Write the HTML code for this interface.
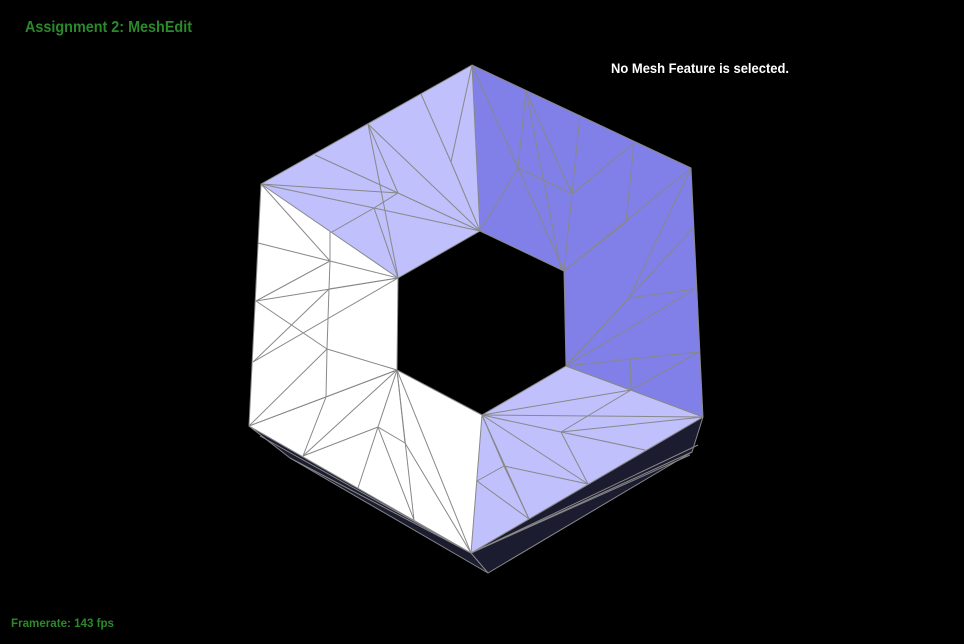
<!DOCTYPE html>
<html><head><meta charset="utf-8"><style>
html,body{margin:0;padding:0;background:#000;}
svg{display:block}
</style></head><body>
<svg width="964" height="644" viewBox="0 0 964 644">
<rect width="964" height="644" fill="#000"/>
<g stroke-linejoin="round">
<polygon fill="#1c1c30" stroke="#888" stroke-width="1" points="249,426 290,458 488,573 692,452 703,417 471,553"/>
<polygon fill="#c0c0fc" points="472,65 261,184 398,278 480,231"/>
<polygon fill="#8080e8" points="472,65 691,168 703,417 566,366 564,271 480,231"/>
<polygon fill="#c0c0fc" points="482,415 566,366 703,417 471,553"/>
<polygon fill="#ffffff" points="261,184 398,278 397,370 482,415 471,553 249,426"/>
<g stroke="#888" stroke-width="1" fill="none">
<polygon points="472,65 691,168 703,417 471,553 249,426 261,184"/>
<polygon points="480,231 564,271 566,366 482,415 397,370 398,278"/>
<polyline points="472,65 480,231"/><polyline points="566,366 703,417"/><polyline points="482,415 471,553"/><polyline points="261,184 398,278"/>
<polyline points="421,94 451,162 472,65"/><polyline points="451,162 480,231"/>
<polyline points="368,124 398,193"/><polyline points="368,124 480,231"/><polyline points="368,124 398,277"/>
<polyline points="315,155 398,193"/><polyline points="398,193 480,231"/>
<polyline points="261,184 398,193"/><polyline points="261,184 374,208 480,231"/><polyline points="374,208 398,193"/><polyline points="374,208 398,278"/><polyline points="374,208 332,232"/>
<polyline points="472,65 518,168"/><polyline points="526,91 518,168"/><polyline points="526,91 572,194"/><polyline points="526,91 561,270"/>
<polyline points="518,168 480,231"/><polyline points="518,168 564,271"/><polyline points="518,168 572,194"/>
<polyline points="580,115 572,194 634,143"/><polyline points="572,194 564,271"/><polyline points="634,143 626,222 564,271"/>
<polyline points="691,168 564,271"/><polyline points="691,168 629,298"/><polyline points="693,228 566,366"/><polyline points="629,298 695,289"/><polyline points="629,298 566,366"/><polyline points="695,289 566,366"/>
<polyline points="566,366 630,359 699,352"/><polyline points="630,359 631,390 699,352"/><polyline points="566,366 631,390"/>
<polyline points="482,415 631,390"/><polyline points="482,415 703,417"/><polyline points="482,415 561,432"/><polyline points="482,415 588,484"/><polyline points="482,415 504,466"/><polyline points="482,415 529,519"/>
<polyline points="561,432 631,390"/><polyline points="561,432 703,417"/><polyline points="561,432 645,450"/><polyline points="561,432 588,484"/>
<polyline points="504,466 477,481"/><polyline points="504,466 588,484"/><polyline points="504,466 529,519"/><polyline points="477,481 529,519"/>
<polyline points="330,232 330,261 329,289 327,349 326,397 303,456"/>
<polyline points="261,184 330,261"/><polyline points="258,243 330,261 398,278"/><polyline points="330,261 256,301 398,278"/><polyline points="329,289 398,278"/><polyline points="253,362 329,289"/>
<polyline points="256,301 327,349"/><polyline points="253,362 398,278"/><polyline points="327,349 397,370"/><polyline points="249,426 327,349"/><polyline points="249,426 326,397"/><polyline points="326,397 397,370"/>
<polyline points="249,426 397,370"/><polyline points="303,456 397,370"/><polyline points="303,456 378,427 397,370"/>
<polyline points="378,427 358,488"/><polyline points="378,427 414,520 397,370"/><polyline points="378,427 405,443"/><polyline points="405,443 471,553"/><polyline points="397,370 471,553"/><polyline points="397,370 405,443"/>
<polyline points="290,458 471,553 488,573"/><polyline points="471,553 692,452"/><polyline points="471,553 690,455"/><polyline points="471,553 698,445"/><polyline points="260,436 471,553"/>
</g>
</g>
<text x="25" y="32" fill="#2a8a2a" font-family="Liberation Sans, sans-serif" font-weight="bold" font-size="16" textLength="167" lengthAdjust="spacingAndGlyphs">Assignment 2: MeshEdit</text>
<text x="611" y="73" fill="#ffffff" font-family="Liberation Sans, sans-serif" font-weight="bold" font-size="14" textLength="178" lengthAdjust="spacingAndGlyphs">No Mesh Feature is selected.</text>
<text x="11" y="627" fill="#2a8a2a" font-family="Liberation Sans, sans-serif" font-weight="bold" font-size="12" textLength="103" lengthAdjust="spacingAndGlyphs">Framerate: 143 fps</text>
</svg>
</body></html>
